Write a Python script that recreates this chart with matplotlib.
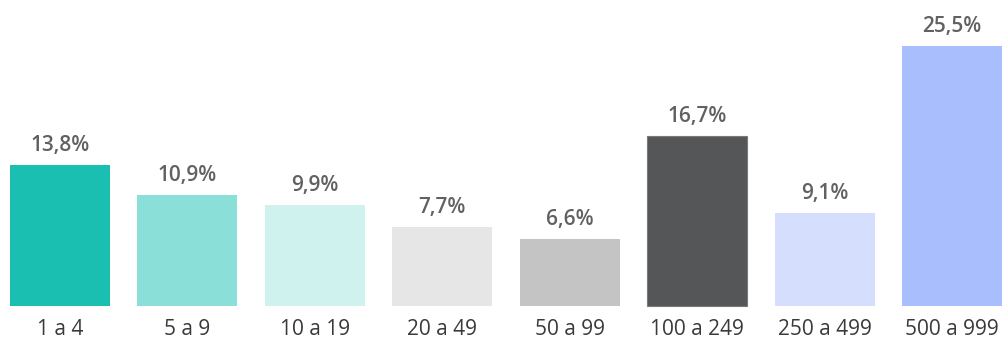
import matplotlib
matplotlib.use("Agg")
import matplotlib.pyplot as plt

# Company size bands (number of employees) and share of companies
categories = ["1 a 4", "5 a 9", "10 a 19", "20 a 49", "50 a 99",
              "100 a 249", "250 a 499", "500 a 999"]
shares = [13.8, 10.9, 9.9, 7.7, 6.6, 16.7, 9.1, 25.5]
value_labels = ["13,8%", "10,9%", "9,9%", "7,7%", "6,6%", "16,7%", "9,1%", "25,5%"]
bar_colors = ["#1ABFB1", "#8ADFD8", "#D0F2EF", "#E6E6E6", "#C4C4C4",
              "#545658", "#D5DEFD", "#A9BEFD"]

plt.rcParams["font.family"] = ["Open Sans", "DejaVu Sans"]

fig = plt.figure(figsize=(10.02, 3.38), dpi=100)
ax = fig.add_axes([0, 0, 1, 1])

x = list(range(len(categories)))
bars = ax.bar(x, shares, width=0.785, color=bar_colors, linewidth=0)
bars[5].set_edgecolor("#7a7a7a")
bars[5].set_linewidth(0.8)

for xi, val, lab in zip(x, shares, value_labels):
    ax.annotate(lab, (xi, val), xytext=(0, 10.1), textcoords="offset points",
                ha="center", va="baseline", fontsize=15, fontweight=600,
                color="#636160")

for xi, cat in zip(x, categories):
    ax.text(xi, -2.84, cat, ha="center", va="baseline", fontsize=15,
            color="#3a3a3a")

ax.set_xlim(-0.471, 7.392)
ax.set_ylim(-3.14, 30.01)
ax.axis("off")

fig.savefig("out.png", dpi=100)
